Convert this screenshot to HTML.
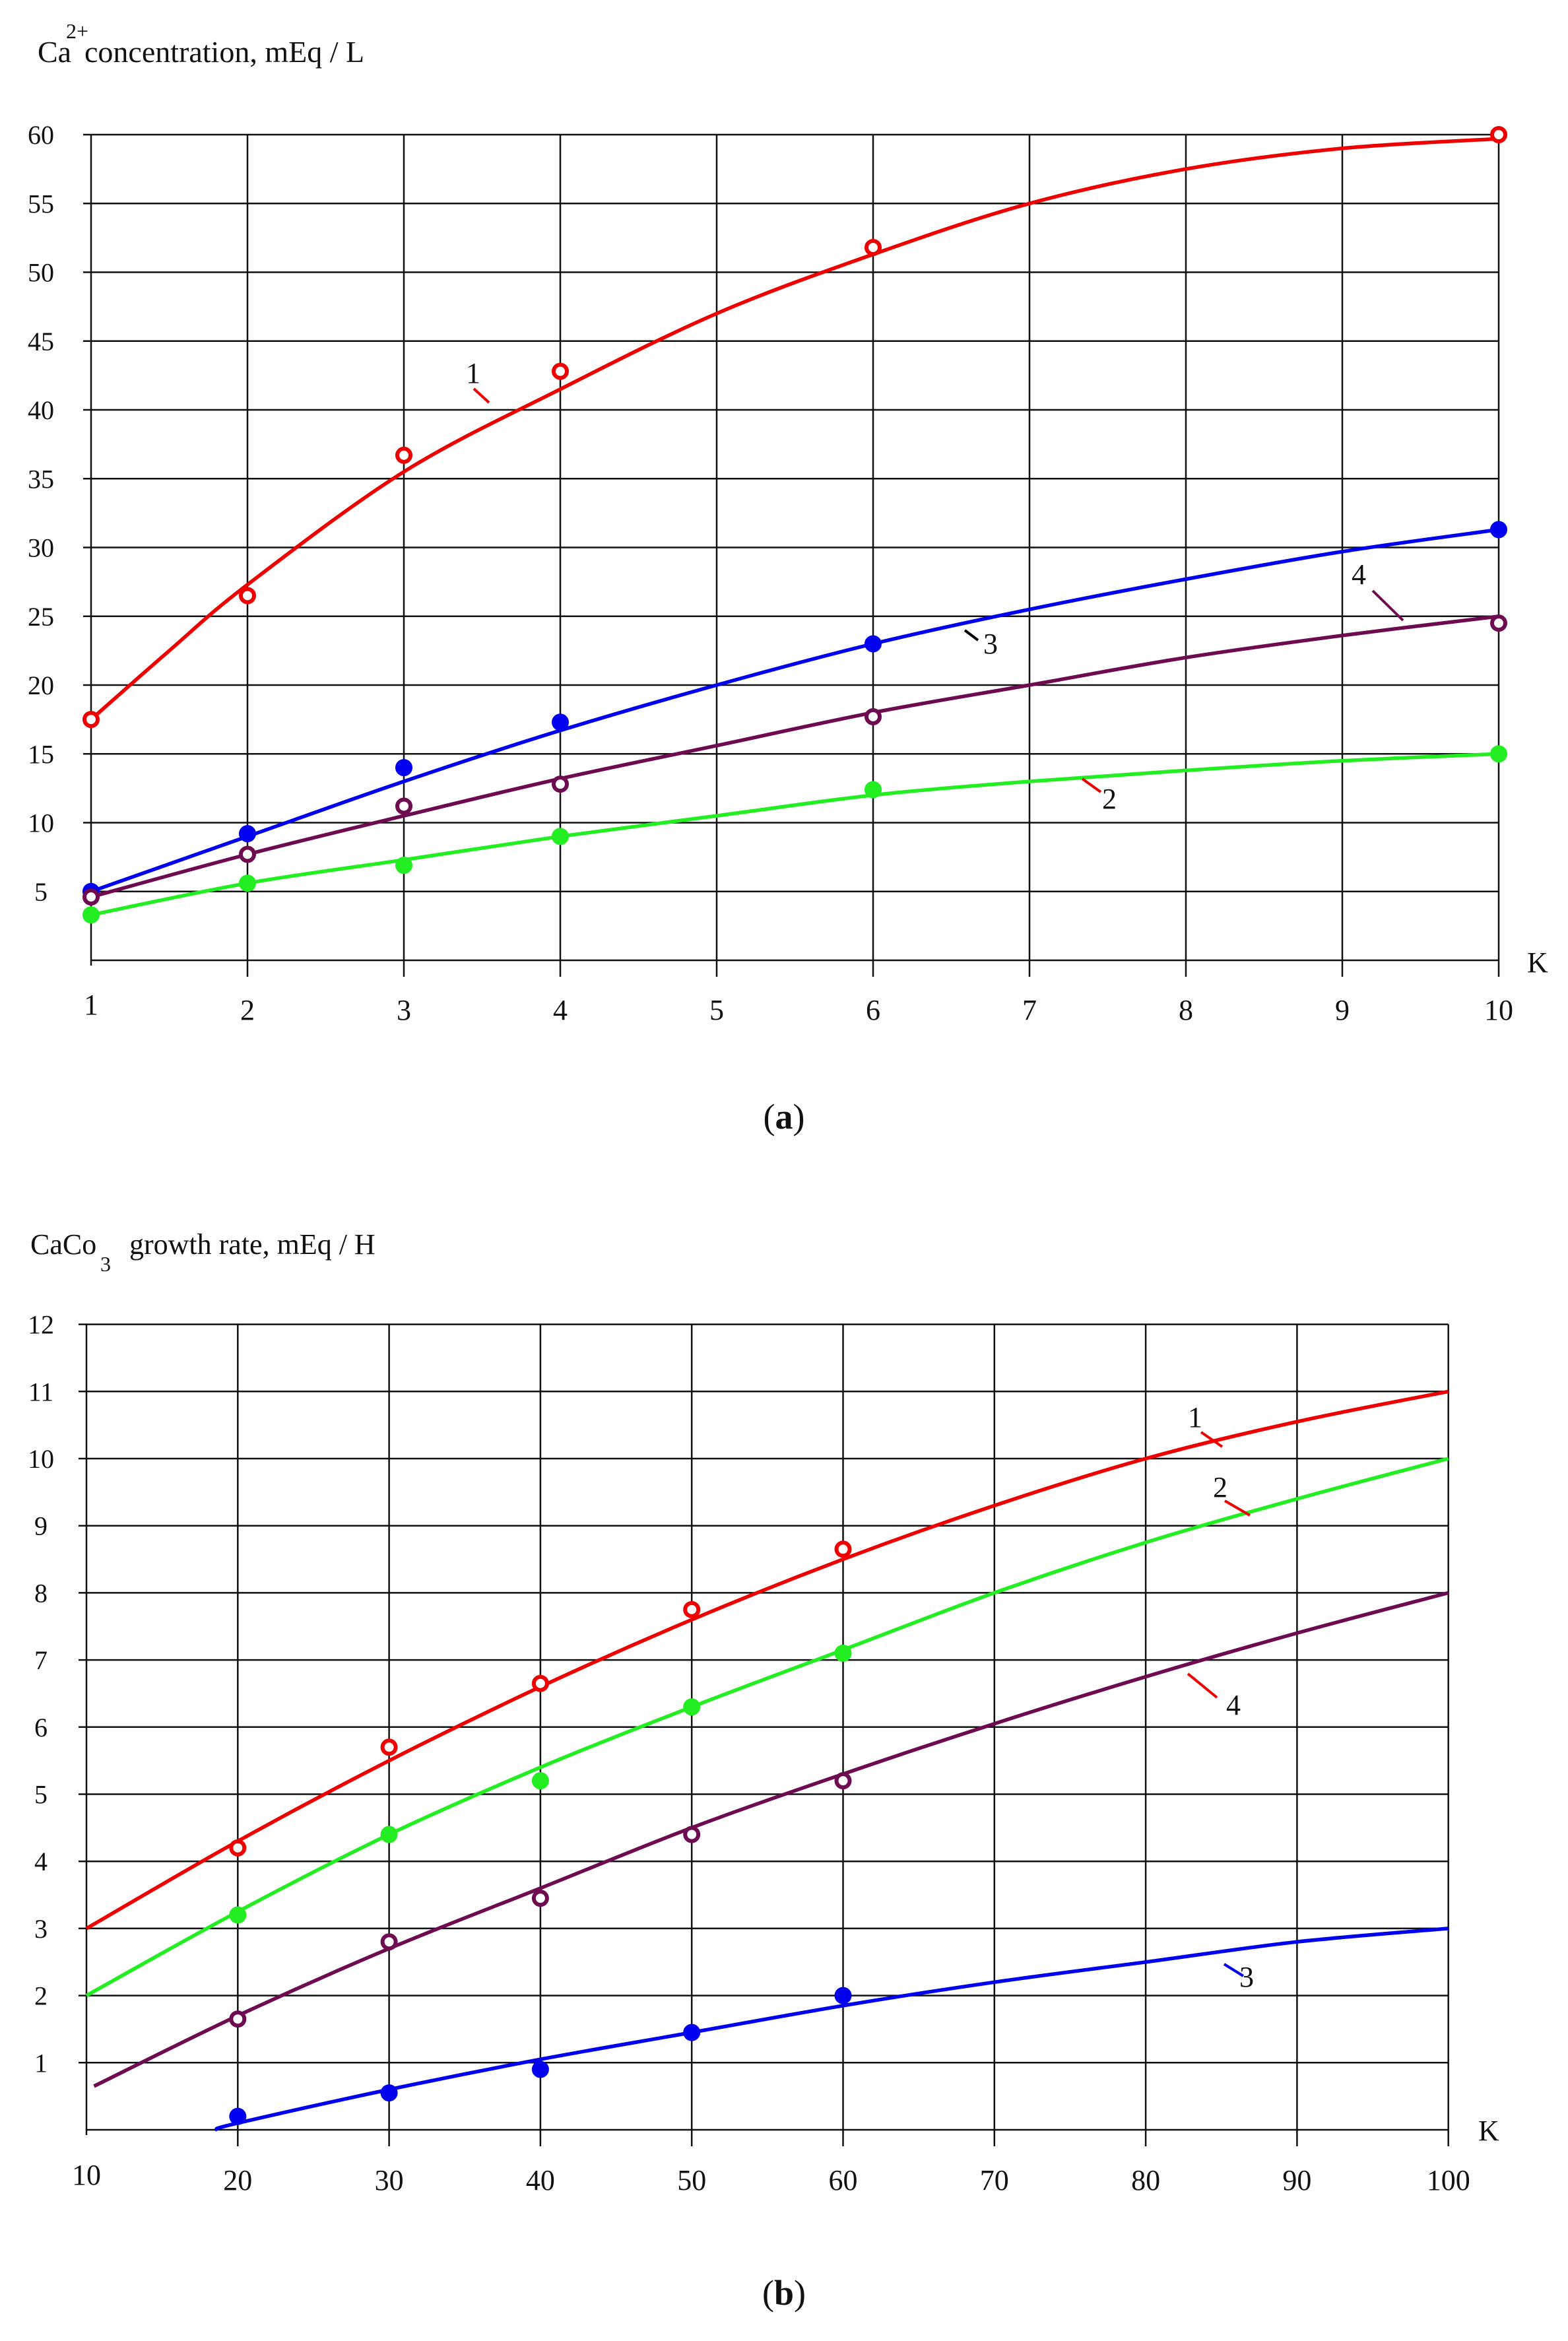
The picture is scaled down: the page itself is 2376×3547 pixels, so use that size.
<!DOCTYPE html>
<html><head><meta charset="utf-8"><style>
html,body{margin:0;padding:0;background:#fff;}
svg{display:block;}
text{font-family:"Liberation Serif",serif;fill:#111;}
</style></head><body>
<svg id="s" width="2376" height="3547" xmlns="http://www.w3.org/2000/svg"></svg>
<script>
var S=document.getElementById('s'),out='';
function crPath(pts){var d='M'+pts[0][0].toFixed(1)+' '+pts[0][1].toFixed(1);
for(var i=0;i<pts.length-1;i++){var p0=pts[i-1]||pts[i],p1=pts[i],p2=pts[i+1],p3=pts[i+2]||p2;
var c1=[p1[0]+(p2[0]-p0[0])/6,p1[1]+(p2[1]-p0[1])/6],c2=[p2[0]-(p3[0]-p1[0])/6,p2[1]-(p3[1]-p1[1])/6];
d+=' C'+c1[0].toFixed(1)+' '+c1[1].toFixed(1)+' '+c2[0].toFixed(1)+' '+c2[1].toFixed(1)+' '+p2[0].toFixed(1)+' '+p2[1].toFixed(1);}return d;}
function chart(o){
var X=function(v){return o.x0+(v-o.xmin)*o.dx;},Y=function(v){return o.y0-(v-o.ymin)*o.dy;};
var top=Y(o.ymax),bot=Y(o.ymin),right=X(o.xmax);
// grid
for(var v=o.ymin+o.ystep;v<=o.ymax+1e-6;v+=o.ystep){var y=Y(v);
out+='<line x1="'+(o.x0-12)+'" y1="'+y+'" x2="'+right+'" y2="'+y+'" stroke="#111" stroke-width="2.5"/>';
out+='<text x="'+o.ylx+'" y="'+(y+14)+'" font-size="40" text-anchor="middle">'+v+'</text>';}
out+='<line x1="'+o.x0+'" y1="'+bot+'" x2="'+right+'" y2="'+bot+'" stroke="#111" stroke-width="2.5"/>';
o.xt.forEach(function(v){var x=X(v);out+='<line x1="'+x+'" y1="'+top+'" x2="'+x+'" y2="'+(v==o.xmin?bot+8:bot+25)+'" stroke="#111" stroke-width="2.5"/>';
out+='<text x="'+x+'" y="'+(v==o.xmin?o.xly-8:o.xly)+'" font-size="44" text-anchor="middle">'+v+'</text>';});
out+='<text x="'+o.kx+'" y="'+o.ky+'" font-size="44">K</text>';
o.series.forEach(function(s){
var pts=s.c.map(function(p){return [X(p[0]),Y(p[1])];});
out+='<path d="'+crPath(pts)+'" fill="none" stroke="'+s.col+'" stroke-width="5.5"/>';
s.p.forEach(function(p){out+='<circle cx="'+X(p[0])+'" cy="'+Y(p[1])+'" r="10" fill="'+(s.fill?s.col:'#fff')+'" stroke="'+s.col+'" stroke-width="6"/>';});
});
o.labels.forEach(function(l){out+='<text x="'+l[0]+'" y="'+l[1]+'" font-size="44">'+l[2]+'</text><line x1="'+l[3]+'" y1="'+l[4]+'" x2="'+l[5]+'" y2="'+l[6]+'" stroke="'+l[7]+'" stroke-width="4"/>';});
}
var R='#ee0000',G='#22ee22',B='#0000ee',P='#6e0a50';
chart({x0:138,xmin:1,xmax:10,dx:237,y0:1455,ymin:0,ymax:60,dy:20.85,ystep:5,ylx:62,xt:[1,2,3,4,5,6,7,8,9,10],xly:1545,kx:2314,ky:1473,
series:[
{col:R,c:[[1,17.5],[1.5,22.5],[2,27.3],[3,35.5],[4,41.5],[5,47],[6,51.3],[7,55],[8,57.5],[9,59],[10,59.7]],p:[[1,17.5],[2,26.5],[3,36.7],[4,42.8],[6,51.8],[10,60]]},
{col:B,c:[[1,5],[2,9],[3,13],[4,16.7],[5,20],[6,23],[7,25.5],[8,27.7],[9,29.7],[10,31.3]],p:[[1,5],[2,9.2],[3,14],[4,17.3],[6,23],[10,31.3]],fill:1},
{col:P,c:[[1,4.6],[2,7.7],[3,10.5],[4,13.2],[5,15.6],[6,18],[7,20],[8,22],[9,23.6],[10,25]],p:[[1,4.6],[2,7.7],[3,11.2],[4,12.8],[6,17.7],[10,24.5]]},
{col:G,c:[[1,3.3],[2,5.6],[3,7.3],[4,9],[5,10.5],[6,12],[7,13],[8,13.8],[9,14.5],[10,15]],p:[[1,3.3],[2,5.6],[3,6.9],[4,9],[6,12.4],[10,15]],fill:1}],
labels:[[706,580,'1',718,589,741,610,R],[1490,990,'3',1462,955,1482,970,'#000'],[2048,885,'4',2080,895,2126,940,P],[1670,1225,'2',1640,1180,1668,1200,R]]});
out+='<text x="57" y="94" font-size="46">Ca</text><text x="100" y="58" font-size="32">2+</text><text x="128" y="94" font-size="46">concentration, mEq / L</text>';
out+='<text x="1188" y="1710" font-size="54" text-anchor="middle">(<tspan font-weight="bold">a</tspan>)</text>';
chart({x0:131,xmin:10,xmax:100,dx:22.93,y0:3227,ymin:0,ymax:12,dy:101.7,ystep:1,ylx:62,xt:[10,20,30,40,50,60,70,80,90,100],xly:3318,kx:2240,ky:3243,
series:[
{col:R,c:[[10,3],[20,4.3],[30,5.5],[40,6.6],[50,7.6],[60,8.5],[70,9.3],[80,10],[90,10.55],[100,11]],p:[[20,4.2],[30,5.7],[40,6.65],[50,7.75],[60,8.65]]},
{col:G,c:[[10,2],[20,3.25],[30,4.4],[40,5.4],[50,6.3],[60,7.15],[70,8],[80,8.75],[90,9.4],[100,10]],p:[[20,3.2],[30,4.4],[40,5.2],[50,6.3],[60,7.1]],fill:1},
{col:P,c:[[10.5,0.65],[20,1.7],[30,2.7],[40,3.6],[50,4.5],[60,5.3],[70,6.05],[80,6.75],[90,7.4],[100,8]],p:[[20,1.65],[30,2.8],[40,3.45],[50,4.4],[60,5.2]]},
{col:B,c:[[18.5,0],[20,0.1],[30,0.6],[40,1.05],[50,1.45],[60,1.85],[70,2.2],[80,2.5],[90,2.8],[100,3]],p:[[20,0.2],[30,0.55],[40,0.9],[50,1.45],[60,2.0]],fill:1}],
labels:[[1800,2162,'1',1820,2170,1852,2192,R],[1838,2268,'2',1856,2274,1894,2296,R],[1858,2598,'4',1800,2536,1844,2572,R],[1878,3010,'3',1855,2976,1884,2994,B]]});
out+='<text x="46" y="1900" font-size="44">CaCo</text><text x="152" y="1926" font-size="32">3</text><text x="196" y="1900" font-size="44">growth rate, mEq / H</text>';
out+='<text x="1188" y="3492" font-size="54" text-anchor="middle">(<tspan font-weight="bold">b</tspan>)</text>';
S.innerHTML=out;
</script>
</body></html>
